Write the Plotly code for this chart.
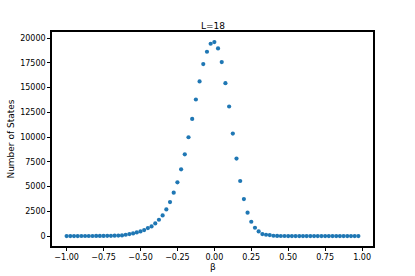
import numpy as np
import plotly.graph_objects as go

# beta values: -1.000 to 0.975 in steps of 0.025 (80 points)
beta = [round(-1 + 0.025 * k, 3) for k in range(80)]

# number of states
left_tail = [5, 5, 6, 7, 8, 9, 10, 12, 14, 17, 20, 25, 32, 40, 52]
core = [67, 135, 202, 270, 371, 472, 607, 810, 978, 1282,
        1653, 2092, 2699, 3441, 4386, 5432, 6748, 8266, 9987, 11843,
        13800, 15622, 17376, 18624, 19434, 19603, 18962, 17578, 15453, 13091,
        10358, 7828, 5567, 3745, 2362, 1451, 844, 472, 202, 135,
        101, 34]
right_tail = [20, 12, 8, 5, 4, 3, 2, 2, 1, 1, 1, 1, 1, 1, 1, 1, 1, 1, 1, 1, 1, 1, 1]
states = left_tail + core + right_tail

x_ticks = [-1.0, -0.75, -0.5, -0.25, 0.0, 0.25, 0.5, 0.75, 1.0]
y_ticks = [0, 2500, 5000, 7500, 10000, 12500, 15000, 17500, 20000]

fig = go.Figure(go.Scatter(
    x=beta, y=states, mode="markers",
    marker=dict(color="#1f77b4", size=4.2, line=dict(width=0)),
    showlegend=False,
))

font = dict(family="DejaVu Sans", size=8, color="black")
label_font = dict(family="DejaVu Sans", size=9, color="black")
axis_common = dict(
    showgrid=False, zeroline=False, showline=True, mirror=True,
    linecolor="black", linewidth=1.5, ticks="outside", ticklen=3,
    tickwidth=0.8, tickcolor="black", tickfont=font,
)

fig.update_layout(
    width=415, height=276,
    margin=dict(l=52, r=42, t=32, b=30),
    paper_bgcolor="white", plot_bgcolor="white",
    font=font,
    xaxis=dict(range=[-1.099, 1.074], tickvals=x_ticks,
               ticktext=[f"{v:.2f}".replace("-", "\u2212") for v in x_ticks],
               **axis_common),
    yaxis=dict(range=[-1000, 20620], tickvals=y_ticks,
               ticktext=[str(v) for v in y_ticks],
               **axis_common),
    annotations=[
        dict(text="L=18", xref="paper", yref="paper", x=0.5, y=1.028,
             xanchor="center", yanchor="middle", showarrow=False, font=label_font),
        dict(text="β", xref="paper", yref="paper", x=0.5, y=-0.097,
             xanchor="center", yanchor="middle", showarrow=False, font=label_font),
        dict(text="Number of States", xref="paper", yref="paper", x=-0.129, y=0.5,
             xanchor="center", yanchor="middle", textangle=-90, showarrow=False,
             font=label_font),
    ],
)

fig.write_html("out.html", config={"displayModeBar": False},
               post_script="document.body.style.margin='0';document.body.style.overflow='hidden';")
